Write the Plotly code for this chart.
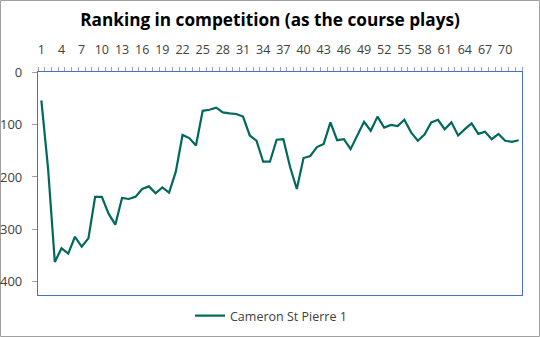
import plotly.graph_objects as go

# Hole-by-hole ranking for the competition, as the course plays
holes = list(range(1, 73))
ranking = [
    54, 184, 362, 336, 346, 314, 333, 317, 238, 238,
    270, 291, 240, 242, 238, 223, 218, 231, 220, 230,
    190, 120, 126, 140, 74, 72, 68, 77, 79, 80,
    85, 121, 131, 171, 171, 129, 128, 181, 223, 164,
    160, 143, 137, 96, 130, 128, 147, 121, 95, 112,
    85, 106, 101, 103, 91, 115, 131, 119, 96, 91,
    109, 96, 121, 109, 98, 118, 114, 128, 118, 131,
    133, 130,
]
player = "Cameron St Pierre 1"
title = "Ranking in competition (as the course plays)"
x_labels = list(range(1, 72, 3))
y_labels = [0, 100, 200, 300, 400]

W, H = 540, 337
ml, mr, mt, mb = 38, 18, 72, 42
pw, ph = W - ml - mr, H - mt - mb
x_range = [0.5, len(holes) + 0.5]

fig = go.Figure()
fig.add_trace(go.Scatter(
    x=holes, y=ranking, mode="lines", name=player,
    line=dict(color="#00695C", width=2.2),
))

font = "Open Sans, Segoe UI, sans-serif"
border = "#4472C4"
grey = "#A0A0A0"

fig.update_layout(
    width=W, height=H,
    margin=dict(l=ml, r=mr, t=mt, b=mb, autoexpand=False),
    paper_bgcolor="white", plot_bgcolor="white",
    font=dict(family=font, color="#404040", size=12),
    title=dict(text=f"<b>{title}</b>", x=(270 - ml) / pw, xref="paper",
               xanchor="center", y=1 - 20 / H, yanchor="middle",
               font=dict(size=17.2, color="#000000", family=font)),
    showlegend=True,
    legend=dict(orientation="h", x=(271 - ml) / pw, xanchor="center",
                y=-(21 / ph), yanchor="middle",
                font=dict(size=12.5, color="#404040", family=font)),
    xaxis=dict(
        side="top", range=x_range,
        tickmode="array", tickvals=x_labels,
        ticktext=[str(v) for v in x_labels],
        ticks="", showgrid=False, zeroline=False,
        ticklabelstandoff=12,
        tickfont=dict(size=12.5, color="#404040"),
        showline=True, linecolor=border, linewidth=1.2, mirror=True,
        # small marks at every category boundary
        minor=dict(tickmode="linear", tick0=0.5, dtick=1,
                   ticks="outside", ticklen=4, tickwidth=1,
                   tickcolor=grey, showgrid=False),
    ),
    yaxis=dict(
        range=[425, 0], tickmode="array", tickvals=y_labels,
        ticks="outside", ticklen=5, tickcolor=grey,
        showgrid=False, zeroline=False, ticklabelstandoff=7,
        showline=True, linecolor=border, linewidth=1.2, mirror=True,
        tickfont=dict(size=13, color="#404040"),
    ),
    shapes=[dict(
        type="rect", xref="paper", yref="paper",
        x0=(0.5 - ml) / pw, x1=(W - 0.5 - ml) / pw,
        y0=-(mb - 0.5) / ph, y1=1 + (mt - 0.5) / ph,
        line=dict(color="#A0A0A0", width=1), layer="below",
    )],
)

fig.write_html("out.html")
